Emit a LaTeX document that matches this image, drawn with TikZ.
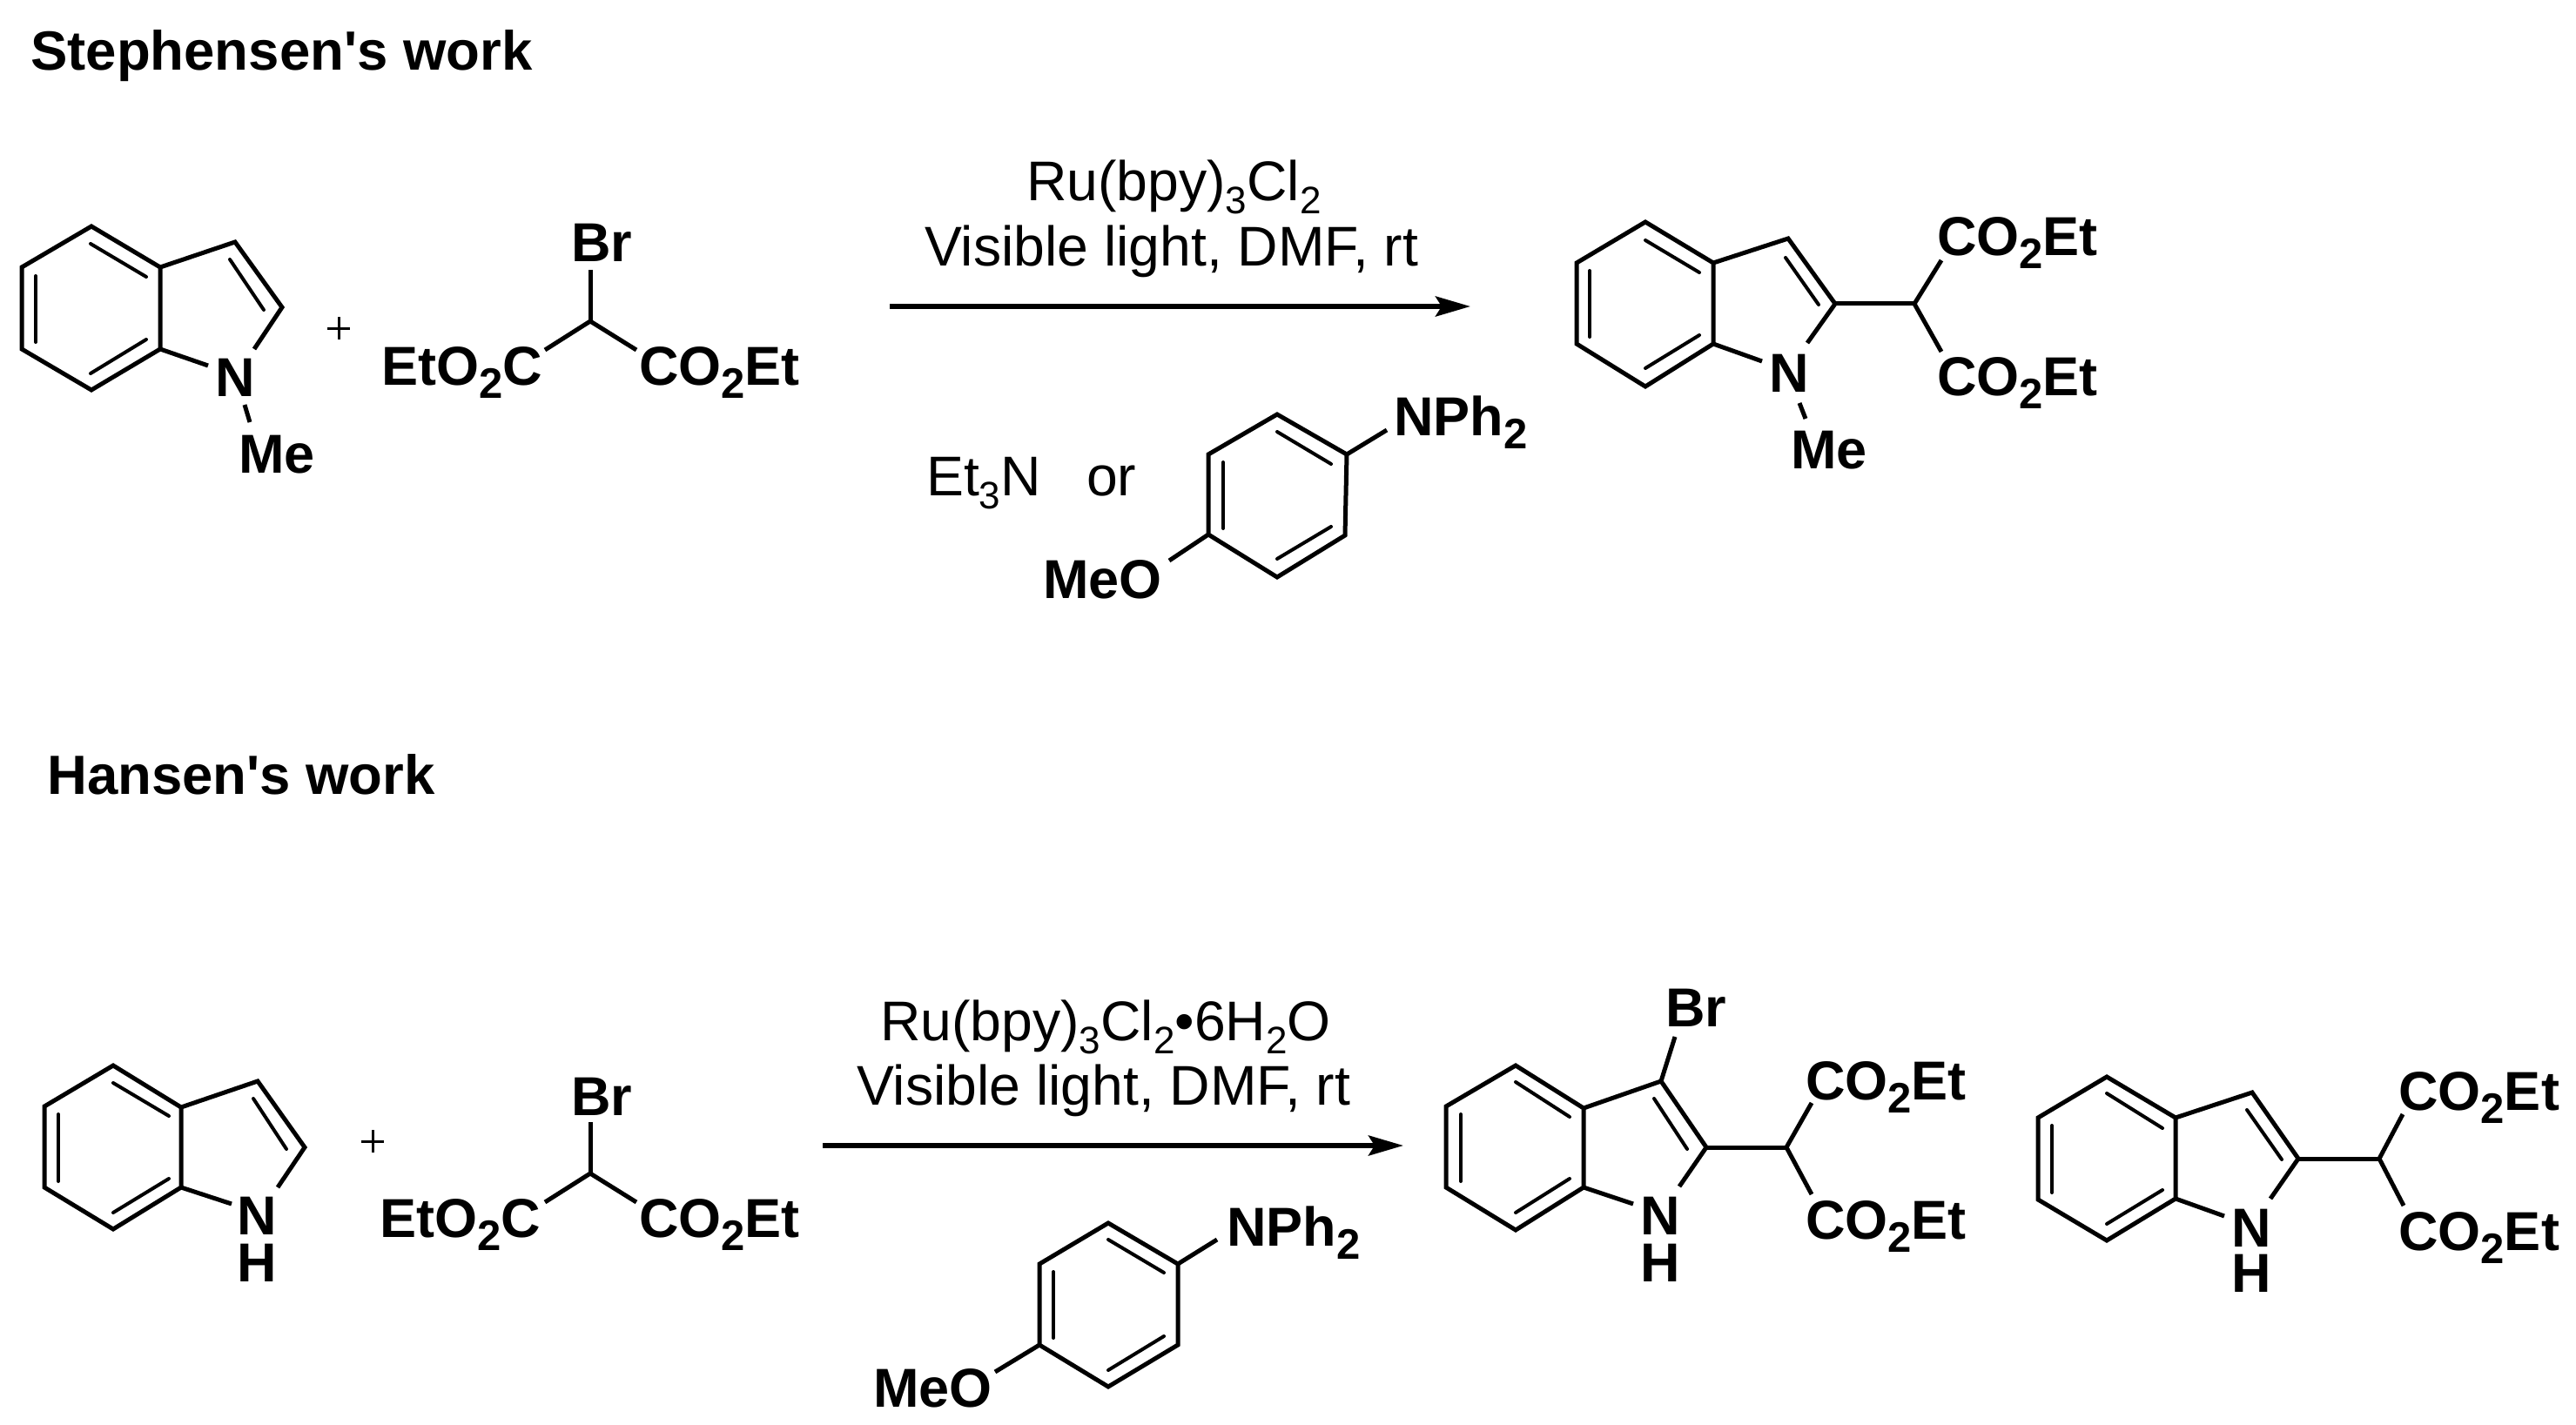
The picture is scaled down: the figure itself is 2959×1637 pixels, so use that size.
\documentclass[tikz,border=0pt]{standalone}
\usepackage{fontspec}
\usetikzlibrary{arrows.meta}
\newfontfamily\lib{Liberation Sans}
\newcommand{\bdn}[1]{\raisebox{-15pt}{\fontsize{49}{49}\selectfont #1}}
\newcommand{\rdn}[1]{\raisebox{-15pt}{\fontsize{44}{44}\selectfont #1}}
\newcommand{\mkpts}[1]{\foreach \n/\x/\y in {#1}{\coordinate (\n) at (\x,\y);}}
\newcommand{\indolebonds}[1]{%
  \draw[bond] (#1a) -- (#1b) -- (#1c) -- (#1d) -- (#1e) -- (#1f) -- cycle;
  \draw[bond] (#1f) -- (#1g) -- (#1h) -- (#1i);
  \draw[bond] (#1e) -- (#1j);
  \draw[dbl] (#1k) -- (#1l);
  \draw[dbl] (#1m) -- (#1n);
  \draw[dbl] (#1o) -- (#1p);
  \draw[dbl] (#1q) -- (#1r);
}
\newcommand{\anisole}[1]{%
  \draw[bond] (#1a) -- (#1b) -- (#1c) -- (#1d) -- (#1e) -- (#1f) -- cycle;
  \draw[bond] (#1b) -- (#1g);
  \draw[bond] (#1e) -- (#1h);
  \draw[dbl] (#1i) -- (#1j);
  \draw[dbl] (#1k) -- (#1l);
  \draw[dbl] (#1m) -- (#1n);
}
\tikzset{
  bond/.style={line width=5pt,line join=miter,black},
  dbl/.style={line width=4pt,line cap=round,black},
  rxn/.style={line width=5.5pt,black,-{Stealth[length=40pt,width=23pt,inset=7pt]}},
  plusmark/.style={line width=3pt,black},
  bl/.style={inner sep=0pt,anchor=base west,xshift=-3pt,font=\lib\fontsize{63}{63}\selectfont\bfseries},
  blc/.style={inner sep=0pt,anchor=base,font=\lib\fontsize{63}{63}\selectfont\bfseries},
  ttl/.style={inner sep=0pt,anchor=base west,font=\lib\fontsize{63.5}{63.5}\selectfont\bfseries},
  rg/.style={inner sep=0pt,anchor=base west,xshift=-3pt,font=\lib\fontsize{64.3}{64.3}\selectfont},
}
\begin{document}
\begin{tikzpicture}[x=1pt,y=-1pt]
\useasboundingbox (0,0) rectangle (2959,1637);
\fill[white] (0,0) rectangle (2959,1637);

% titles
\node[ttl] (t1) at (35,81) {Stephensen's work};
\node[ttl] (t2) at (54,912) {Hansen's work};

% --- top row: N-methylindole
\mkpts{pa/105/260,pb/25/307,pc/25/401,pd/105/448,pe/184/401,pf/184/307,pg/270/278,ph/324/353,pi/292/401,pj/239/420,
pk/41/317,pl/41/393,pm/104/280,pn/168/318,po/104/429,pp/168/390,pq/264/298,pr/303/356,pme1/281/465,pme2/287/485}
\indolebonds{p}
\draw[bond] (pme1) -- (pme2);
\node[blc] (pN) at (270,455) {N};
\node[bl] (pMe) at (277,543) {Me};

% plus 1
\mkpts{ax1/376/377,ax2/402/377,ay1/389/364,ay2/389/390}
\draw[plusmark] (ax1) -- (ax2);
\draw[plusmark] (ay1) -- (ay2);

% bromomalonate 1
\mkpts{qc/678/369,qbr/678/310,ql/626/402,qr/731/402}
\draw[bond] (qbr) -- (qc);
\draw[bond] (ql) -- (qc) -- (qr);
\node[bl] (qBr) at (659,301) {Br};
\node[bl] (qL) at (441,442) {EtO\bdn{2}C};
\node[bl] (qR) at (737,442) {CO\bdn{2}Et};

% reagents 1
\node[rg] (r1) at (1182,231) {Ru(bpy)\rdn{3}Cl\rdn{2}};
\node[rg] (r2) at (1065,306) {Visible light, DMF, rt};
\coordinate (ar1s) at (1022,352);
\coordinate (ar1e) at (1689,352);
\draw[rxn] (ar1s) -- (ar1e);
\node[rg] (r3) at (1067,569) {Et\rdn{3}N};
\node[rg] (r4) at (1251,569) {or};

% anisidine 1
\mkpts{ua/1467/476,ub/1547/522,uc/1545/615,ud/1467/663,ue/1388/614,uf/1388/522,ug/1593/494,uh/1343/644,
ui/1467/496,uj/1529/533,uk/1405/531,ul/1405/607,um/1467/642,un/1529/605}
\anisole{u}
\node[bl] (uN) at (1604,500) {NPh\bdn{2}};
\node[bl] (uO) at (1201,687) {MeO};

% product 1
\mkpts{va/1890/255,vb/1811/302,vc/1811/395,vd/1890/444,ve/1968/395,vf/1968/302,vg/2054/274,vh/2108/349,vi/2076/394,vj/2024/415,
vk/1826/311,vl/1826/387,vm/1890/276,vn/1952/313,vo/1890/423,vp/1952/385,vq/2051/296,vr/2089/350,
vch/2199/349,vup/2230/299,vdn/2230/404,vme1/2067/463,vme2/2074/481}
\indolebonds{v}
\draw[bond] (vh) -- (vch);
\draw[bond] (vup) -- (vch) -- (vdn);
\draw[bond] (vme1) -- (vme2);
\node[blc] (vN) at (2055,450) {N};
\node[bl] (vMe) at (2060,538) {Me};
\node[bl] (vU) at (2228,294) {CO\bdn{2}Et};
\node[bl] (vD) at (2228,454) {CO\bdn{2}Et};

% --- bottom row: indole
\mkpts{wa/130/1224,wb/51/1271,wc/51/1364,wd/130/1412,we/208/1364,wf/208/1272,wg/296/1242,wh/350/1318,wi/319/1364,wj/266/1383,
wk/67/1280,wl/67/1357,wm/130/1244,wn/194/1282,wo/130/1393,wp/194/1354,wq/291/1262,wr/329/1320}
\indolebonds{w}
\node[blc] (wN) at (295,1418) {N};
\node[blc] (wH) at (295,1472) {H};

% plus 2
\mkpts{bx1/415/1311,bx2/441/1311,by1/428/1298,by2/428/1324}
\draw[plusmark] (bx1) -- (bx2);
\draw[plusmark] (by1) -- (by2);

% bromomalonate 2
\mkpts{xc/678/1348,xbr/678/1289,xl/626/1381,xr/731/1381}
\draw[bond] (xbr) -- (xc);
\draw[bond] (xl) -- (xc) -- (xr);
\node[bl] (xBr) at (659,1281) {Br};
\node[bl] (xL) at (439,1421) {EtO\bdn{2}C};
\node[bl] (xR) at (737,1421) {CO\bdn{2}Et};

% reagents 2
\node[rg] (s1) at (1014,1195) {Ru(bpy)\rdn{3}Cl\rdn{2}•6H\rdn{2}O};
\node[rg] (s2) at (987,1269) {Visible light, DMF, rt};
\coordinate (ar2s) at (945,1316);
\coordinate (ar2e) at (1612,1316);
\draw[rxn] (ar2s) -- (ar2e);

% anisidine 2
\mkpts{ya/1273/1405,yb/1353/1452,yc/1353/1545,yd/1273/1593,ye/1194/1545,yf/1194/1452,yg/1398/1424,yh/1143/1576,
yi/1273/1424,yj/1337/1462,yk/1210/1461,yl/1210/1537,ym/1273/1574,yn/1337/1535}
\anisole{y}
\node[bl] (yN) at (1412,1431) {NPh\bdn{2}};
\node[bl] (yO) at (1006,1616) {MeO};

% product 2 (bromo)
\mkpts{za/1741/1224,zb/1661/1271,zc/1661/1364,zd/1741/1413,ze/1819/1364,zf/1819/1273,zg/1908/1242,zh/1960/1318,zi/1929/1363,zj/1876/1383,
zk/1678/1280,zl/1678/1357,zm/1741/1243,zn/1803/1283,zo/1741/1393,zp/1803/1354,zq/1900/1262,zr/1938/1320,
zch/2052/1318,zup/2081/1267,zdn/2081/1372,zbr/1924/1191}
\indolebonds{z}
\draw[bond] (zh) -- (zch);
\draw[bond] (zup) -- (zch) -- (zdn);
\draw[bond] (zg) -- (zbr);
\node[blc] (zN) at (1907,1418) {N};
\node[blc] (zH) at (1907,1472) {H};
\node[bl] (zBr) at (1916,1179) {Br};
\node[bl] (zU) at (2077,1263) {CO\bdn{2}Et};
\node[bl] (zD) at (2077,1423) {CO\bdn{2}Et};

% product 3
\mkpts{ka/2420/1237,kb/2341/1284,kc/2341/1378,kd/2420/1425,ke/2499/1377,kf/2499/1284,kg/2587/1255,kh/2640/1331,ki/2608/1377,kj/2555/1397,
kk/2357/1293,kl/2357/1370,km/2420/1256,kn/2484/1296,ko/2420/1406,kp/2484/1367,kq/2581/1275,kr/2621/1332,
kch/2733/1331,kup/2760/1280,kdn/2761/1385}
\indolebonds{k}
\draw[bond] (kh) -- (kch);
\draw[bond] (kup) -- (kch) -- (kdn);
\node[blc] (kN) at (2586,1432) {N};
\node[blc] (kH) at (2586,1484) {H};
\node[bl] (kU) at (2758,1275) {CO\bdn{2}Et};
\node[bl] (kD) at (2758,1436) {CO\bdn{2}Et};
\end{tikzpicture}
\end{document}
